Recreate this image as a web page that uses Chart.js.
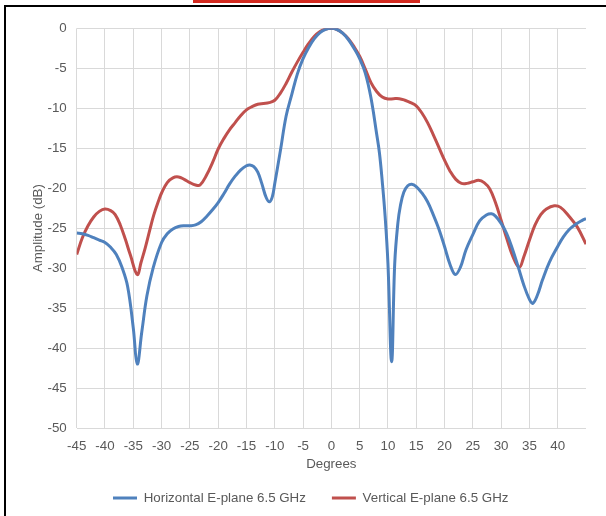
<!DOCTYPE html>
<html>
<head>
<meta charset="utf-8">
<script src="https://cdn.jsdelivr.net/npm/chart.js@4/dist/chart.umd.min.js"></script>
<style>
  html, body { margin: 0; padding: 0; background: #ffffff; }
  #wrap { position: relative; width: 606px; height: 516px; overflow: hidden; }
  #c { position: absolute; left: 0; top: 0; }
  .frameTop { position: absolute; left: 4px; top: 5px; width: 602px; height: 2px; background: #000; }
  .frameLeft { position: absolute; left: 4px; top: 5px; width: 2px; height: 511px; background: #000; }
  .redBar { position: absolute; left: 193px; top: 0px; width: 227px; height: 3px; background: #d42a20; }
</style>
</head>
<body>
<div id="wrap">
  <canvas id="c" width="606" height="516"></canvas>
  <div class="redBar"></div>
  <div class="frameTop"></div>
  <div class="frameLeft"></div>
</div>
<script>
// ---- Data ----
const seriesNames = ["Horizontal E-plane 6.5 GHz", "Vertical E-plane 6.5 GHz"];

const hDeg = [-45,-44,-43,-42,-41,-40,-39,-38,-37,-36,-35,-34.3,-33.5,-32.6,-31.5,-30,-29,-28,-27,-26,-25,-24,-23,-22,-21,-20,-19,-18,-17,-16,-15,-14.4,-13.7,-13,-12.3,-11.5,-10.9,-10.4,-10,-9,-8,-7,-6,-5,-4,-3,-2,-1,0,1,2,3,4,5,6,7,8,8.5,9,9.5,10,10.65,11.2,11.75,12.2,12.8,13.5,14.2,15,16,17,18,19,20,21,21.9,22.8,23.8,25,26.2,27.4,28.3,29,30,31,32,33,34,35,35.6,36.4,37.3,38.5,40,41,42,43,44.4,45];
const hAmp = [-25.6,-25.7,-25.9,-26.2,-26.5,-26.8,-27.4,-28.3,-29.9,-32.3,-37.5,-42.0,-38.0,-33.5,-30.0,-26.8,-25.7,-25.1,-24.8,-24.7,-24.7,-24.6,-24.2,-23.5,-22.7,-21.8,-20.7,-19.5,-18.5,-17.7,-17.2,-17.1,-17.3,-18.0,-19.4,-21.2,-21.7,-21.0,-19.4,-15.3,-11.0,-8.3,-5.7,-3.8,-2.4,-1.3,-0.55,-0.12,0,-0.15,-0.6,-1.4,-2.5,-3.8,-5.6,-8.7,-13.2,-15.6,-19.2,-23.5,-29.4,-41.7,-29.4,-24.4,-22.2,-20.5,-19.7,-19.5,-19.8,-20.6,-21.7,-23.3,-25.1,-27.3,-29.6,-30.8,-29.9,-27.7,-25.8,-24.1,-23.35,-23.2,-23.5,-24.4,-25.7,-27.6,-29.8,-32.1,-33.9,-34.4,-33.4,-31.5,-29.3,-27.3,-26.1,-25.2,-24.6,-24.0,-23.8];

const vDeg = [-45,-44,-43,-42,-41,-40,-39,-38.2,-37.3,-36.4,-35.5,-34.3,-33.6,-32.9,-32,-31.4,-30.5,-30,-29,-28,-27,-26,-25,-24,-23.2,-22,-21,-20,-19,-18,-17,-16,-15,-14,-13,-12,-11,-10,-9,-8,-7,-6,-5,-4,-3,-2,-1,0,1,2,3,4,5,6,7,8,9,10,11,12,13,14,15,16,17,18,19,20,21,22,23,24,25,26,27,28,29,30,31,32,33.2,34,35,36,37,38,39.4,40.5,42,43.5,45];
const vAmp = [-28.3,-26.2,-24.7,-23.6,-22.9,-22.6,-22.8,-23.3,-24.6,-26.4,-28.4,-30.8,-29.2,-27.5,-25.0,-23.4,-21.5,-20.6,-19.3,-18.7,-18.6,-18.9,-19.3,-19.6,-19.6,-18.3,-16.8,-15.1,-13.8,-12.7,-11.8,-10.9,-10.2,-9.8,-9.5,-9.4,-9.3,-9.0,-8.1,-6.9,-5.5,-4.2,-3.0,-1.9,-1.0,-0.4,-0.08,0,-0.15,-0.6,-1.3,-2.3,-3.5,-5.1,-6.8,-7.9,-8.6,-8.85,-8.8,-8.8,-9.0,-9.3,-9.7,-10.6,-11.8,-13.3,-14.9,-16.5,-17.9,-18.9,-19.4,-19.4,-19.2,-19.0,-19.3,-20.1,-21.8,-24.0,-26.3,-28.4,-29.9,-28.6,-26.5,-24.6,-23.3,-22.6,-22.2,-22.4,-23.5,-24.9,-27.0];

const xMin = -45, xMax = 45, xStep = 5;
const yMin = -50, yMax = 0, yStep = 5;
const xTitle = "Degrees";
const yTitle = "Amplitude (dB)";

// ---- Chart ----
const FONT = "'Liberation Sans', Arial, sans-serif";
const FS = 13.33;
const TXT = '#595959';
const GRID = '#d9d9d9';

const toPts = (xs, ys) => xs.map((x, i) => ({ x: x, y: ys[i] }));

const legendShift = {
  id: 'legendShift',
  afterLayout(chart) {
    const lg = chart.legend;
    if (lg) { lg.left = 87; lg.top = 498 - 26 - FS / 2; }
  }
};

new Chart(document.getElementById('c'), {
  type: 'line',
  data: {
    datasets: [
      { label: seriesNames[0], data: toPts(hDeg, hAmp), borderColor: '#4f81bd', backgroundColor: '#4f81bd',
        borderWidth: 3, pointRadius: 0, tension: 0.4, fill: false },
      { label: seriesNames[1], data: toPts(vDeg, vAmp), borderColor: '#c0504d', backgroundColor: '#c0504d',
        borderWidth: 3, pointRadius: 0, tension: 0.4, fill: false }
    ]
  },
  options: {
    responsive: false,
    animation: false,
    devicePixelRatio: 1,
    layout: { padding: { top: 28.3, right: 20, bottom: 0, left: 0 } },
    plugins: {
      tooltip: { enabled: false },
      legend: {
        position: 'bottom',
        align: 'start',
        maxHeight: 35,
        labels: {
          usePointStyle: true, pointStyle: 'line', pointStyleWidth: 24, padding: 26,
          color: TXT, font: { family: FONT, size: FS }
        }
      }
    },
    scales: {
      x: {
        type: 'linear', min: xMin, max: xMax,
        afterFit(s) { s.height = 53; },
        border: { display: false },
        grid: { color: (ctx) => (ctx.tick && ctx.tick.value === xMax) ? 'rgba(0,0,0,0)' : GRID, lineWidth: 1, drawTicks: false },
        ticks: { stepSize: xStep, autoSkip: false, maxRotation: 0, padding: 10, color: TXT,
          font: { family: FONT, size: FS },
          callback: (v) => v === xMax ? '' : String(v) },
        title: { display: true, text: xTitle, color: TXT, font: { family: FONT, size: FS }, padding: { top: 0, bottom: 9 } }
      },
      y: {
        type: 'linear', min: yMin, max: yMax,
        afterFit(s) { s.width = 76.7; },
        border: { display: false },
        grid: { color: GRID, lineWidth: 1, drawTicks: false },
        ticks: { stepSize: yStep, padding: 10, color: TXT, font: { family: FONT, size: FS } },
        title: { display: true, text: yTitle, color: TXT, font: { family: FONT, size: FS }, padding: { top: 30, bottom: 0 } }
      }
    }
  },
  plugins: [legendShift]
});
</script>
</body>
</html>
